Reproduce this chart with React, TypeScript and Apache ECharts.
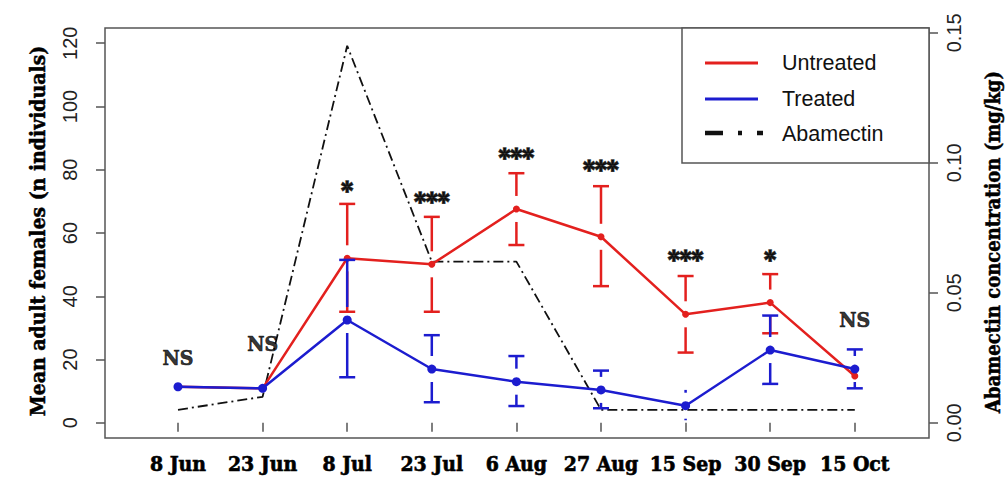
import React, { useEffect, useRef } from "react";
import * as echarts from "echarts";

// Sampling dates
const categories = ["8 Jun", "23 Jun", "8 Jul", "23 Jul", "6 Aug", "27 Aug", "15 Sep", "30 Sep", "15 Oct"];

// Mean adult females per sampling date
const untreated = [11.4, 10.9, 52.0, 50.1, 67.6, 58.8, 34.3, 38.0, 14.8];
const treated = [11.4, 10.9, 32.5, 17.0, 13.0, 10.4, 5.4, 23.0, 17.0];

// Confidence limits (null = no bar drawn)
const untreatedLow = [null, null, 35.1, 35.1, 56.2, 43.2, 22.2, 28.3, null];
const untreatedHigh = [null, null, 69.2, 65.1, 78.9, 74.8, 46.4, 47.0, null];
const treatedLow = [null, null, 14.4, 6.5, 5.3, 4.6, 0.8, 12.3, 10.9];
const treatedHigh = [null, null, 51.5, 27.7, 21.1, 16.5, 10.4, 33.9, 23.2];

// Abamectin residue concentration (mg/kg)
const abamectin = [0.005, 0.010, 0.145, 0.062, 0.062, 0.005, 0.005, 0.005, 0.005];

// Significance marks and the height (left-axis units) they sit at
const sigLabels = ["NS", "NS", "*", "***", "***", "***", "***", "*", "NS"];
const sigY = [20.5, 25.2, 73.5, 70.0, 84.0, 80.0, 51.5, 51.5, 32.5];

const leftTicks = [0, 20, 40, 60, 80, 100, 120];
const rightTicks = [0, 0.05, 0.1, 0.15];

const RED = "#e3201e";
const BLUE = "#1c1ccf";
const SERIF = '"DejaVu Serif Condensed", "DejaVu Serif", serif';
const SANS = '"Liberation Sans", Arial, sans-serif';

function barData(low: (number | null)[], high: (number | null)[], mean: number[]) {
  const out: number[][] = [];
  low.forEach((lo, i) => {
    const hi = high[i];
    if (lo != null && hi != null) out.push([i, lo, hi, mean[i]]);
  });
  return out;
}

function errorBarSeries(data: number[][], color: string, z: number) {
  return {
    type: "custom",
    xAxisIndex: 0,
    yAxisIndex: 0,
    z,
    silent: true,
    encode: { x: 0, y: [1, 2, 3] },
    data,
    renderItem: (params: any, api: any) => {
      const i = api.value(0);
      const pm = api.coord([i, api.value(3)]);
      const ph = api.coord([i, api.value(2)]);
      const pl = api.coord([i, api.value(1)]);
      const x = pm[0];
      const gap = 13;
      const cap = 8;
      const style = { stroke: color, lineWidth: 2.5 };
      const children: any[] = [];
      if (pm[1] - ph[1] > gap) {
        children.push({ type: "line", shape: { x1: x, y1: ph[1], x2: x, y2: pm[1] - gap }, style });
        if (pm[1] - gap - ph[1] > 5)
          children.push({ type: "line", shape: { x1: x - cap, y1: ph[1], x2: x + cap, y2: ph[1] }, style });
      }
      if (pl[1] - pm[1] > gap) {
        children.push({ type: "line", shape: { x1: x, y1: pm[1] + gap, x2: x, y2: pl[1] }, style });
        if (pl[1] - pm[1] - gap > 5)
          children.push({ type: "line", shape: { x1: x - cap, y1: pl[1], x2: x + cap, y2: pl[1] }, style });
      }
      return { type: "group", children };
    },
  };
}

export default function App() {
  const ref = useRef<HTMLDivElement>(null);

  useEffect(() => {
    if (!ref.current) return;
    const chart = echarts.init(ref.current, null, { renderer: "svg" });

    const gridLeft = 135.7;
    const gridWidth = 761.4;
    const axisColor = "#555";

    chart.setOption({
      animation: false,
      backgroundColor: "#ffffff",
      grid: [
        { left: gridLeft, width: gridWidth, top: 43.2, height: 379.6 },
        { left: gridLeft, width: gridWidth, top: 32.8, height: 390 },
      ],
      xAxis: [
        {
          type: "category",
          gridIndex: 0,
          data: categories,
          boundaryGap: true,
          position: "bottom",
          offset: 15.2,
          axisLine: { show: false },
          axisTick: { show: true, alignWithLabel: true, interval: 0, length: 9, lineStyle: { color: axisColor, width: 1.5 } },
          axisLabel: {
            interval: 0,
            margin: 15,
            fontFamily: SERIF,
            fontWeight: "bold",
            fontSize: 21,
            color: "#000",
            textBorderColor: "#000",
            textBorderWidth: 0.6,
          },
          splitLine: { show: false },
        },
        {
          type: "category",
          gridIndex: 1,
          data: categories,
          boundaryGap: true,
          show: false,
        },
      ],
      yAxis: [
        {
          type: "value",
          gridIndex: 0,
          min: leftTicks[0],
          max: leftTicks[leftTicks.length - 1],
          interval: 20,
          position: "left",
          offset: gridLeft - 105,
          axisLine: { show: false },
          axisTick: { show: true, length: 9, lineStyle: { color: axisColor, width: 1.5 } },
          axisLabel: { rotate: 90, margin: 25, fontFamily: SANS, fontSize: 20, color: "#222" },
          splitLine: { show: false },
        },
        {
          type: "value",
          gridIndex: 1,
          min: rightTicks[0],
          max: rightTicks[rightTicks.length - 1],
          interval: 0.05,
          position: "right",
          offset: 929 - (gridLeft + gridWidth),
          axisLine: { show: false },
          axisTick: { show: true, length: 9, lineStyle: { color: axisColor, width: 1.5 } },
          axisLabel: {
            rotate: 90,
            margin: 15,
            fontFamily: SANS,
            fontSize: 20,
            color: "#222",
            formatter: (v: number) => v.toFixed(2),
          },
          splitLine: { show: false },
        },
      ],
      series: [
        {
          name: "Abamectin",
          type: "line",
          xAxisIndex: 1,
          yAxisIndex: 1,
          data: abamectin,
          z: 1,
          symbol: "none",
          lineStyle: { color: "#111", width: 1.8, type: [10, 4, 2, 4] },
        },
        errorBarSeries(barData(untreatedLow, untreatedHigh, untreated), RED, 2),
        {
          name: "Untreated",
          type: "line",
          xAxisIndex: 0,
          yAxisIndex: 0,
          data: untreated,
          z: 3,
          symbol: "circle",
          symbolSize: 7,
          itemStyle: { color: RED },
          lineStyle: { color: RED, width: 2.5 },
        },
        errorBarSeries(barData(treatedLow, treatedHigh, treated), BLUE, 4),
        {
          name: "Treated",
          type: "line",
          xAxisIndex: 0,
          yAxisIndex: 0,
          data: treated,
          z: 5,
          symbol: "circle",
          symbolSize: 9,
          itemStyle: { color: BLUE },
          lineStyle: { color: BLUE, width: 2.5 },
        },
        {
          name: "significance",
          type: "scatter",
          xAxisIndex: 0,
          yAxisIndex: 0,
          z: 6,
          symbolSize: 0,
          silent: true,
          data: sigY.map((y, i) => ({ value: [i, y], name: sigLabels[i] })),
          label: {
            show: true,
            position: "inside",
            formatter: (p: any) => (p.name.indexOf("*") >= 0 ? `{star|${p.name}}` : p.name),
            fontFamily: SERIF,
            fontWeight: "bold",
            fontSize: 21,
            color: "#000",
            textBorderColor: "#000",
            textBorderWidth: 0.7,
            rich: {
              star: {
                fontFamily: SERIF,
                fontWeight: "bold",
                fontSize: 25,
                color: "#000",
                textBorderColor: "#000",
                textBorderWidth: 1.6,
              },
            },
          },
        },
      ],
      graphic: [
        {
          type: "rect",
          z: 10,
          silent: true,
          shape: { x: 105, y: 28, width: 824, height: 410 },
          style: { fill: "none", stroke: axisColor, lineWidth: 1.5 },
        },
        {
          type: "rect",
          z: 11,
          silent: true,
          shape: { x: 682, y: 28, width: 247, height: 135 },
          style: { fill: "#ffffff", stroke: axisColor, lineWidth: 1.5 },
        },
        {
          type: "line",
          z: 12,
          shape: { x1: 705, y1: 63, x2: 758, y2: 63 },
          style: { stroke: RED, lineWidth: 3 },
        },
        {
          type: "line",
          z: 12,
          shape: { x1: 705, y1: 99, x2: 758, y2: 99 },
          style: { stroke: BLUE, lineWidth: 3 },
        },
        {
          type: "line",
          z: 12,
          shape: { x1: 705, y1: 133, x2: 763, y2: 133 },
          style: { stroke: "#111", lineWidth: 4.5, lineDash: [18, 15, 4, 15] },
        },
        {
          type: "text",
          z: 12,
          x: 782,
          y: 63,
          style: { text: "Untreated", font: `21.5px ${SANS}`, fill: "#111", verticalAlign: "middle" },
        },
        {
          type: "text",
          z: 12,
          x: 782,
          y: 99,
          style: { text: "Treated", font: `21.5px ${SANS}`, fill: "#111", verticalAlign: "middle" },
        },
        {
          type: "text",
          z: 12,
          x: 782,
          y: 134,
          style: { text: "Abamectin", font: `21.5px ${SANS}`, fill: "#111", verticalAlign: "middle" },
        },
        {
          type: "text",
          z: 12,
          x: 37,
          y: 231,
          rotation: Math.PI / 2,
          style: {
            text: "Mean adult females (n individuals)",
            font: `bold 21px ${SERIF}`,
            fill: "#000",
            stroke: "#000",
            lineWidth: 0.5,
            align: "center",
            verticalAlign: "middle",
          },
        },
        {
          type: "text",
          z: 12,
          x: 993,
          y: 242,
          rotation: Math.PI / 2,
          style: {
            text: "Abamectin concentration (mg/kg)",
            font: `bold 20px ${SERIF}`,
            fill: "#000",
            stroke: "#000",
            lineWidth: 0.5,
            align: "center",
            verticalAlign: "middle",
          },
        },
      ],
    });

    return () => chart.dispose();
  }, []);

  return (
    <div
      ref={ref}
      style={{ position: "fixed", left: 0, top: 0, width: 1006, height: 486, background: "#fff" }}
    />
  );
}
